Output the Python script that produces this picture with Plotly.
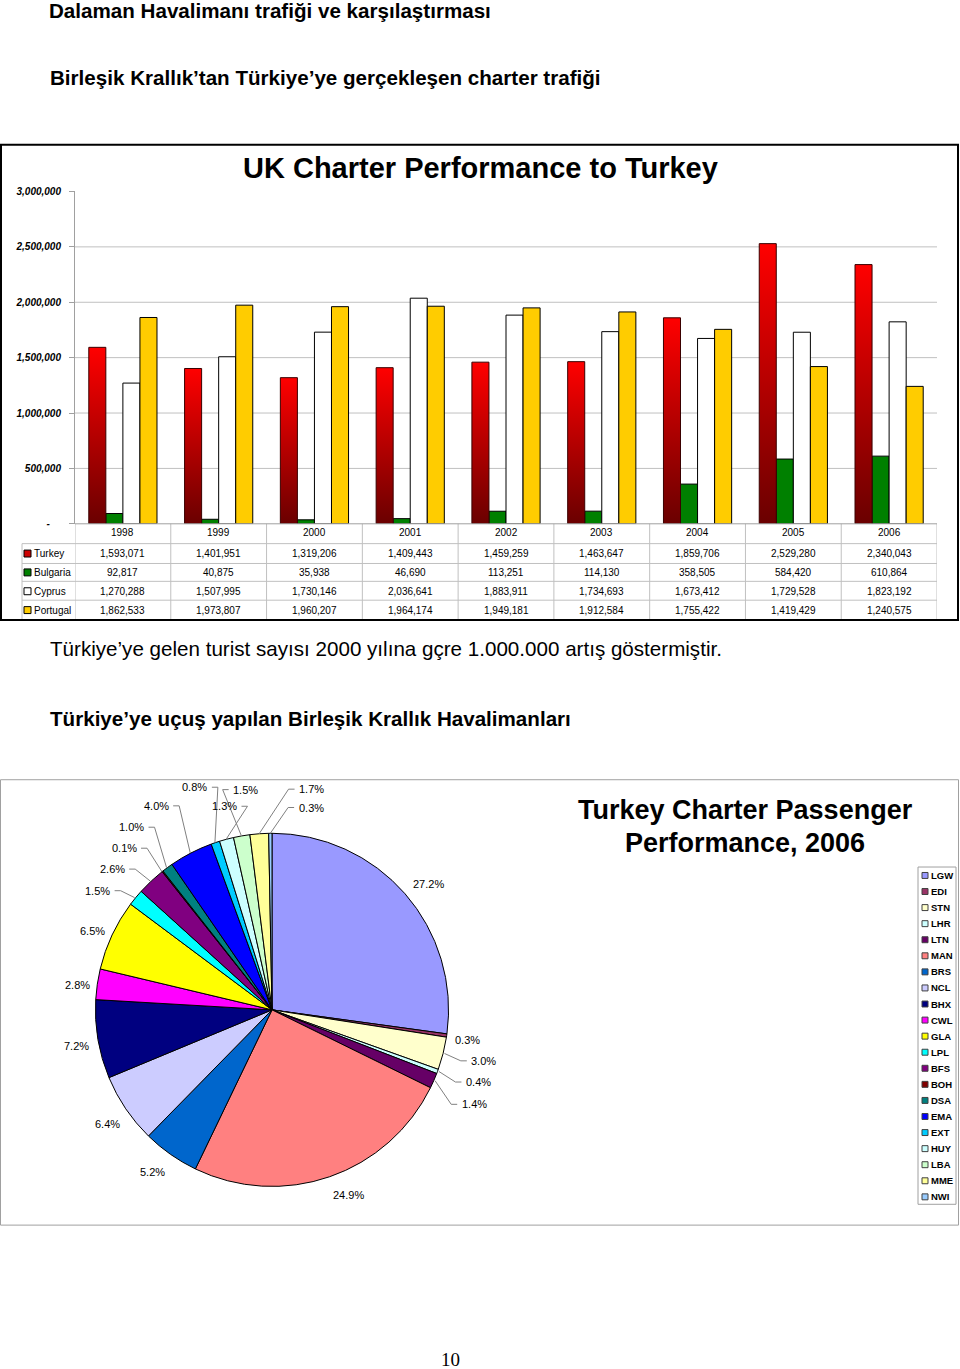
import math
import plotly.graph_objects as go

W, H = 960, 1369

# ---------------- data ----------------
years = ["1998", "1999", "2000", "2001", "2002", "2003", "2004", "2005", "2006"]
turkey = [1593071, 1401951, 1319206, 1409443, 1459259, 1463647, 1859706, 2529280, 2340043]
bulgaria = [92817, 40875, 35938, 46690, 113251, 114130, 358505, 584420, 610864]
cyprus = [1270288, 1507995, 1730146, 2036641, 1883911, 1734693, 1673412, 1729528, 1823192]
portugal = [1862533, 1973807, 1960207, 1964174, 1949181, 1912584, 1755422, 1419429, 1240575]
series_names = ["Turkey", "Bulgaria", "Cyprus", "Portugal"]
y_ticks = [0, 500000, 1000000, 1500000, 2000000, 2500000, 3000000]
y_ticktext = ["-\u00a0\u00a0\u00a0\u00a0", "500,000", "1,000,000", "1,500,000", "2,000,000", "2,500,000", "3,000,000"]

airports = ["LGW", "EDI", "STN", "LHR", "LTN", "MAN", "BRS", "NCL", "BHX", "CWL", "GLA",
            "LPL", "BFS", "BOH", "DSA", "EMA", "EXT", "HUY", "LBA", "MME", "NWI"]
shares = [27.2, 0.3, 3.0, 0.4, 1.4, 24.9, 5.2, 6.4, 7.2, 2.8, 6.5,
          1.5, 2.6, 0.1, 1.0, 4.0, 0.8, 1.3, 1.5, 1.7, 0.3]

# ---------------- styles ----------------
pie_colors = ["#9999FF", "#993366", "#FFFFCC", "#CCFFFF", "#660066", "#FF8080", "#0066CC",
              "#CCCCFF", "#000080", "#FF00FF", "#FFFF00", "#00FFFF", "#800080", "#800000",
              "#008080", "#0000FF", "#00CCFF", "#CCFFFF", "#CCFFCC", "#FFFF99", "#99CCFF"]
# manual nudges (px) of the pie's percentage labels away from their radial position
label_nudge = [(6, 5), (-2, 1), (18, 2), (19, 3), (19, 15), (11, -2), (-5, 0), (1, 3), (2, 3), (3, 4), (2, 5),
               (-20, 7), (-23, 4), (-24, -6), (-22, -23), (-24, -28), (-13, -35), (4, -12), (8, -25),
               (54, -23), (41, -4)]
series_colors = ["#CC0000", "#008000", "#FFFFFF", "#FFCC00"]
FONT = "Liberation Sans, Arial, sans-serif"
GRID = "#C0C0C0"
BW = 0.178  # bar width in category units
PIE_CX, PIE_CY, PIE_R = 272, 1013, 178


def px(x):
    return x / W


def py(y):
    return 1 - y / H


def text_ann(x, y, text, size, xanchor="center", weight="normal", family=FONT, xref="paper", yref="paper",
             yanchor="middle"):
    return dict(x=x, y=y, xref=xref, yref=yref, text=text, showarrow=False, xanchor=xanchor,
                yanchor=yanchor, font=dict(family=family, size=size, color="#000000", weight=weight))


fig = go.Figure()

# red (gradient) bars - Turkey
for i, v in enumerate(turkey):
    x0, x1 = i - 2 * BW, i - BW
    fig.add_trace(go.Scatter(
        x=[x0, x1, x1, x0, x0], y=[0, 0, v, v, 0], mode="lines", fill="toself",
        fillgradient=dict(type="vertical", colorscale=[[0, "#6A0000"], [1, "#FF0000"]]),
        line=dict(color="#3A0000", width=1), showlegend=False, hoverinfo="skip"))

for vals, col, off in [(bulgaria, series_colors[1], -BW), (cyprus, series_colors[2], 0),
                       (portugal, series_colors[3], BW)]:
    fig.add_trace(go.Bar(x=list(range(len(years))), y=vals, width=BW, offset=off,
                         marker=dict(color=col, line=dict(color="#000000", width=1)),
                         showlegend=False, hoverinfo="skip"))

fig.add_trace(go.Pie(
    labels=airports, values=shares, sort=False, direction="clockwise", rotation=0,
    marker=dict(colors=pie_colors, line=dict(color="#000000", width=1)),
    textinfo="none",
    domain=dict(x=[px(PIE_CX - PIE_R), px(PIE_CX + PIE_R)], y=[py(PIE_CY + PIE_R), py(PIE_CY - PIE_R)]),
    showlegend=False, hoverinfo="skip"))

ann = []
shapes = []

# pie percentage labels placed at each slice's mid angle
total = sum(shares)
cum = 0.0
for s, (dx, dy) in zip(shares, label_nudge):
    mid = (cum + s / 2) / total * 2 * math.pi
    cum += s
    sx, sy = math.sin(mid), -math.cos(mid)
    lx, ly = PIE_CX + 200 * sx + dx, PIE_CY + 200 * sy + dy
    ann.append(text_ann(px(lx), py(ly), f"{s:.1f}%", 11))
    if abs(dx) + abs(dy) > 14:
        ex, ey = PIE_CX + PIE_R * sx, PIE_CY + PIE_R * sy
        side = 1 if lx > ex else -1
        tx = lx - side * 17
        path = f"M {px(ex)} {py(ey)} L {px(tx - side * 6)} {py(ly)} L {px(tx)} {py(ly)}"
        shapes.append(dict(type="path", xref="paper", yref="paper", path=path,
                           line=dict(color="#808080", width=1)))

# gridlines
for t in y_ticks[1:-1]:
    shapes.append(dict(type="line", xref="paper", yref="y", x0=px(75), x1=px(937), y0=t, y1=t,
                       line=dict(color=GRID, width=1), layer="below"))

# table
tab_top, row_edges = 523, [543, 563, 581, 600, 620]
row_centers = [553, 572, 591, 610]
for i in range(len(years) + 1):
    shapes.append(dict(type="line", xref="x", yref="paper", x0=i - 0.5, x1=i - 0.5,
                       y0=py(tab_top), y1=py(620), line=dict(color=GRID, width=1)))
shapes.append(dict(type="line", xref="paper", yref="paper", x0=px(22), x1=px(22),
                   y0=py(543), y1=py(620), line=dict(color=GRID, width=1)))
shapes.append(dict(type="line", xref="paper", yref="paper", x0=px(75), x1=px(937),
                   y0=py(tab_top), y1=py(tab_top), line=dict(color="#A0A0A0", width=1)))
for ye in row_edges[:-1]:
    shapes.append(dict(type="line", xref="paper", yref="paper", x0=px(22), x1=px(937),
                       y0=py(ye), y1=py(ye), line=dict(color=GRID, width=1)))

for i, yr in enumerate(years):
    ann.append(text_ann(i, py(532), yr, 10, xref="x"))
for r, (name, vals, col) in enumerate(zip(series_names, [turkey, bulgaria, cyprus, portugal], series_colors)):
    yc = row_centers[r]
    for i, v in enumerate(vals):
        ann.append(text_ann(i, py(yc), f"{v:,}", 10, xref="x"))
    ann.append(text_ann(px(32), py(yc), name, 10, xanchor="left"))
    shapes.append(dict(type="rect", xref="paper", yref="paper", x0=px(24), x1=px(31),
                       y0=py(yc + 3.5), y1=py(yc - 3.5), fillcolor=col,
                       line=dict(color="#000000", width=1)))

# boxes
shapes.append(dict(type="rect", xref="paper", yref="paper", x0=px(1), x1=px(958), y0=py(141), y1=py(620),
                   line=dict(color="#000000", width=2)))
shapes.append(dict(type="rect", xref="paper", yref="paper", x0=px(0.5), x1=px(958.5), y0=py(781), y1=py(1230),
                   line=dict(color="#A0A0A0", width=1)))

# pie legend
shapes.append(dict(type="rect", xref="paper", yref="paper", x0=px(918), x1=px(956), y0=py(869), y1=py(1209),
                   line=dict(color="#A0A0A0", width=1)))
for k, (lab, col) in enumerate(zip(airports, pie_colors)):
    yc = 877.5 + 16.2 * k
    shapes.append(dict(type="rect", xref="paper", yref="paper", x0=px(922), x1=px(928),
                       y0=py(yc + 3), y1=py(yc - 3), fillcolor=col, line=dict(color="#404040", width=1)))
    ann.append(text_ann(px(929), py(yc), lab, 9.5, xanchor="left", weight="bold"))

# titles and page texts
top_title = text_ann(px(48), 1.0, "Dalaman Havalimanı trafiği ve karşılaştırması", 20.6, "left", "bold",
                     yanchor="top")
top_title.update(borderpad=0, yshift=7)
ann += [
    top_title,
    text_ann(px(48), py(73), "Birleşik Krallık’tan Türkiye’ye gerçekleşen charter trafiği", 20.6, "left", "bold"),
    text_ann(px(480), py(164), "UK Charter Performance to Turkey", 29, "center", "bold"),
    text_ann(px(48), py(649), "Türkiye’ye gelen turist sayısı 2000 yılına gçre 1.000.000 artış göstermiştir.",
             20.6, "left"),
    text_ann(px(48), py(719), "Türkiye’ye uçuş yapılan Birleşik Krallık Havalimanları", 20.6, "left", "bold"),
    text_ann(px(745), py(812), "Turkey Charter Passenger", 27, "center", "bold"),
    text_ann(px(745), py(845), "Performance, 2006", 27, "center", "bold"),
    text_ann(px(450), py(1365), "10", 19, "center", family="Liberation Serif, Times New Roman, serif"),
]

fig.update_layout(
    width=W, height=H, margin=dict(l=0, r=0, t=0, b=0, pad=0),
    paper_bgcolor="#FFFFFF", plot_bgcolor="rgba(0,0,0,0)",
    barmode="overlay", showlegend=False,
    xaxis=dict(domain=[px(75), px(937)], range=[-0.5, len(years) - 0.5], showticklabels=False,
               showgrid=False, zeroline=False, showline=False, fixedrange=True),
    yaxis=dict(domain=[py(523), py(188)], range=[0, 3000000], tickvals=y_ticks, ticktext=y_ticktext,
               showgrid=False, zeroline=False, showline=True, linecolor="#A0A0A0", linewidth=1,
               ticks="outside", ticklen=5, tickcolor="#A0A0A0",
               tickfont=dict(family=FONT, size=10, color="#000000", weight="bold", style="italic"),
               ticklabelstandoff=6, fixedrange=True),
    annotations=ann, shapes=shapes,
)

fig.write_html("out.html")
